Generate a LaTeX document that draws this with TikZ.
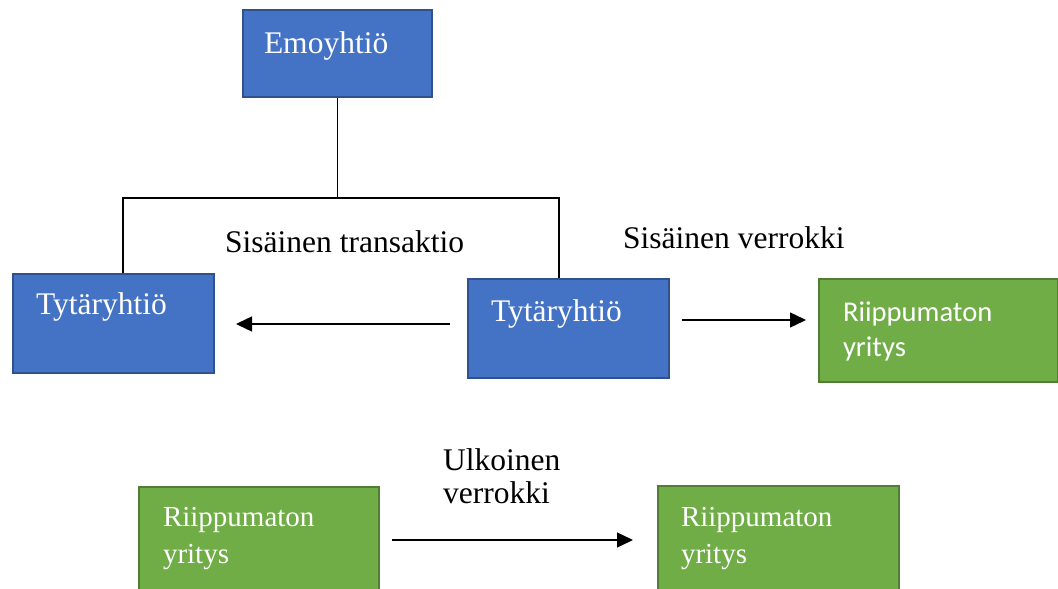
\documentclass[tikz,border=0pt]{standalone}
\usepackage{fontspec}
\setmainfont{Liberation Serif}
\newfontfamily\calibri{Carlito}
\usetikzlibrary{arrows.meta}

\definecolor{boxblue}{HTML}{4472C4}
\definecolor{edgeblue}{HTML}{2F528F}
\definecolor{boxgreen}{HTML}{70AD47}
\definecolor{edgegreen}{HTML}{507E32}

\begin{document}
\begin{tikzpicture}[x=1pt, y=-1pt,
    bluebox/.style={draw=edgeblue, fill=boxblue, line width=2pt, text=white,
        anchor=north west, inner ysep=0pt, align=left,
        font=\fontsize{31.5}{33}\selectfont},
    greenbox/.style={draw=edgegreen, fill=boxgreen, line width=2pt, text=white,
        anchor=north west, inner ysep=0pt, align=left},
    link/.style={line width=1.2pt},
    flow/.style={line width=1.4pt, -{Triangle[length=16pt,width=15pt]}},
    caption/.style={inner sep=0pt, anchor=base west,
        font=\fontsize{31.5}{33}\selectfont}]

    \def\serifsmall{\fontsize{29}{37}\selectfont}
    \def\sanssmall{\calibri\fontsize{28.6}{35}\selectfont}

    \useasboundingbox (0,0) rectangle (1058,589);

% --------------------
% Group boxes
% --------------------
\node[bluebox, inner xsep=21pt, text width=147pt, text height=43pt, text depth=44pt]
    (emo) at (242,9) {Emoyhtiö};
\node[bluebox, inner xsep=23pt, text width=155pt, text height=40pt, text depth=59pt]
    (tyt1) at (12,273) {Tytäryhtiö};
\node[bluebox, inner xsep=23pt, text width=155pt, text height=42pt, text depth=57pt]
    (tyt2) at (467,278) {Tytäryhtiö};

% --------------------
% Independent firms
% --------------------
\node[greenbox, font=\sanssmall, inner xsep=24pt, text width=191pt, text height=42pt, text depth=61pt]
    (rp1) at (818,278) {Riippumaton\\yritys};
\node[greenbox, font=\serifsmall, inner xsep=24pt, text width=192pt, text height=39pt, text depth=75pt]
    (rp2) at (138,486) {Riippumaton\\yritys};
\node[greenbox, font=\serifsmall, inner xsep=23pt, text width=195pt, text height=40pt, text depth=75pt]
    (rp3) at (657,485) {Riippumaton\\yritys};

% --------------------
% Ownership lines
% --------------------
\coordinate (barL) at (123,198);
\coordinate (barR) at (559,198);
\draw[link] (emo.south) -- (emo.south |- barL);
\draw[link] (tyt1.north -| barL) |- (barR) -- (tyt2.north -| barR);

% --------------------
% Arrows and labels
% --------------------
\coordinate (rowA) at (0,324);
\coordinate (rowB) at (0,320);
\coordinate (rowC) at (0,540);
\draw[flow, shorten <=17pt, shorten >=21pt] (tyt2.west |- rowA) -- (tyt1.east |- rowA);
\draw[flow, shorten <=12pt, shorten >=12pt] (tyt2.east |- rowB) -- (rp1.west |- rowB);
\draw[flow, shorten <=12pt, shorten >=24pt] (rp2.east |- rowC) -- (rp3.west |- rowC);

\node[caption] (lblT) at (225,252) {Sisäinen transaktio};
\node[caption] (lblS) at (623,248) {Sisäinen verrokki};
\node[caption, text width=140pt, align=left] (lblU) at (443,470) {Ulkoinen\\verrokki};

\end{tikzpicture}
\end{document}
